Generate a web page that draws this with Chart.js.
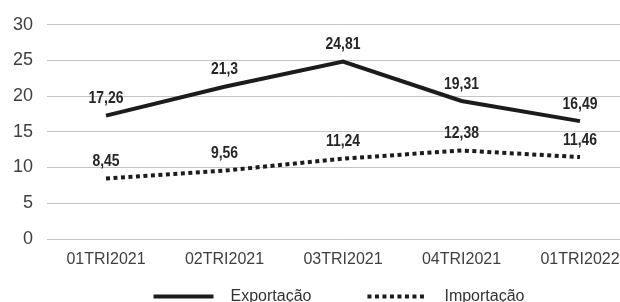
<!DOCTYPE html>
<html>
<head>
<meta charset="utf-8">
<script src="https://cdn.jsdelivr.net/npm/chart.js@4/dist/chart.umd.min.js"></script>
<style>
  html, body { margin: 0; padding: 0; background: #fff; overflow: hidden; }
  #wrap { position: relative; width: 643px; height: 302px; }
</style>
</head>
<body>
<div id="wrap"><canvas id="chart" width="643" height="302"></canvas></div>
<script>
const categories = ['01TRI2021', '02TRI2021', '03TRI2021', '04TRI2021', '01TRI2022'];
const exportacao = [17.26, 21.3, 24.81, 19.31, 16.49];
const importacao = [8.45, 9.56, 11.24, 12.38, 11.46];
const yMin = 0;
const yMax = 30;
const yStep = 5;

const FONT = '"Liberation Sans", Arial, sans-serif';
const fmt = (v) => String(v).replace('.', ',');

// value labels above each point (bold, narrow)
const valueLabels = {
  id: 'valueLabels',
  afterDatasetsDraw(chart, args, opts) {
    const ctx = chart.ctx;
    ctx.save();
    ctx.font = `bold ${opts.size}px ${FONT}`;
    ctx.fillStyle = opts.color;
    ctx.textAlign = 'center';
    ctx.textBaseline = 'middle';
    chart.data.datasets.forEach((ds, i) => {
      chart.getDatasetMeta(i).data.forEach((pt, j) => {
        ctx.save();
        ctx.translate(pt.x, pt.y - opts.offset);
        ctx.scale(opts.squeeze, 1);
        ctx.fillText(fmt(ds.data[j]), 0, 0);
        ctx.restore();
      });
    });
    ctx.restore();
  },
};

// legend with long line samples
const lineLegend = {
  id: 'lineLegend',
  afterDraw(chart, args, opts) {
    const ctx = chart.ctx;
    ctx.save();
    ctx.font = `${opts.size}px ${FONT}`;
    const items = chart.data.datasets.map((ds) => ({ ds, w: ctx.measureText(ds.label).width }));
    const total = items.reduce((s, it) => s + opts.sample + opts.gap + it.w, 0) + opts.spacing * (items.length - 1);
    let x = opts.centerX - total / 2;
    const y = opts.y;
    items.forEach(({ ds, w }) => {
      ctx.beginPath();
      ctx.lineWidth = ds.borderWidth;
      ctx.strokeStyle = ds.borderColor;
      ctx.lineCap = 'butt';
      ctx.setLineDash(ds.borderDash || []);
      ctx.moveTo(x, y);
      ctx.lineTo(x + opts.sample, y);
      ctx.stroke();
      ctx.setLineDash([]);
      x += opts.sample + opts.gap;
      ctx.fillStyle = opts.color;
      ctx.textBaseline = 'middle';
      ctx.fillText(ds.label, x, y);
      x += w + opts.spacing;
    });
    ctx.restore();
  },
};

new Chart(document.getElementById('chart'), {
  type: 'line',
  data: {
    labels: categories,
    datasets: [
      {
        label: 'Exportação',
        data: exportacao,
        borderColor: '#1c1c1c',
        borderWidth: 4,
        tension: 0,
        pointRadius: 0,
        borderCapStyle: 'butt',
      },
      {
        label: 'Importação',
        data: importacao,
        borderColor: '#1c1c1c',
        borderWidth: 4,
        borderDash: [4, 3.5],
        tension: 0,
        pointRadius: 0,
        borderCapStyle: 'butt',
      },
    ],
  },
  options: {
    responsive: false,
    animation: false,
    devicePixelRatio: 1,
    layout: { padding: { top: 22, right: 3.75, bottom: 32.4, left: 0 } },
    plugins: {
      legend: { display: false },
      tooltip: { enabled: false },
      valueLabels: { size: 17, color: '#262626', offset: 17, squeeze: 0.82 },
      lineLegend: { size: 16, color: '#333333', sample: 60, gap: 17, spacing: 56, centerX: 339, y: 296.5 },
    },
    scales: {
      x: {
        offset: true,
        grid: { display: false, drawTicks: false },
        border: { display: false },
        ticks: { color: '#404040', font: { family: FONT, size: 16 }, padding: 11.4, maxRotation: 0 },
        afterFit(scale) { scale.height = 30.6; },
      },
      y: {
        min: yMin,
        max: yMax,
        grid: { color: '#c4c4c4', lineWidth: 1, drawTicks: false },
        border: { display: false },
        ticks: { stepSize: yStep, color: '#404040', font: { family: FONT, size: 18 }, padding: 13.75 },
        afterFit(scale) { scale.width = 46.75; },
      },
    },
  },
  plugins: [valueLabels, lineLegend],
});
</script>
</body>
</html>
